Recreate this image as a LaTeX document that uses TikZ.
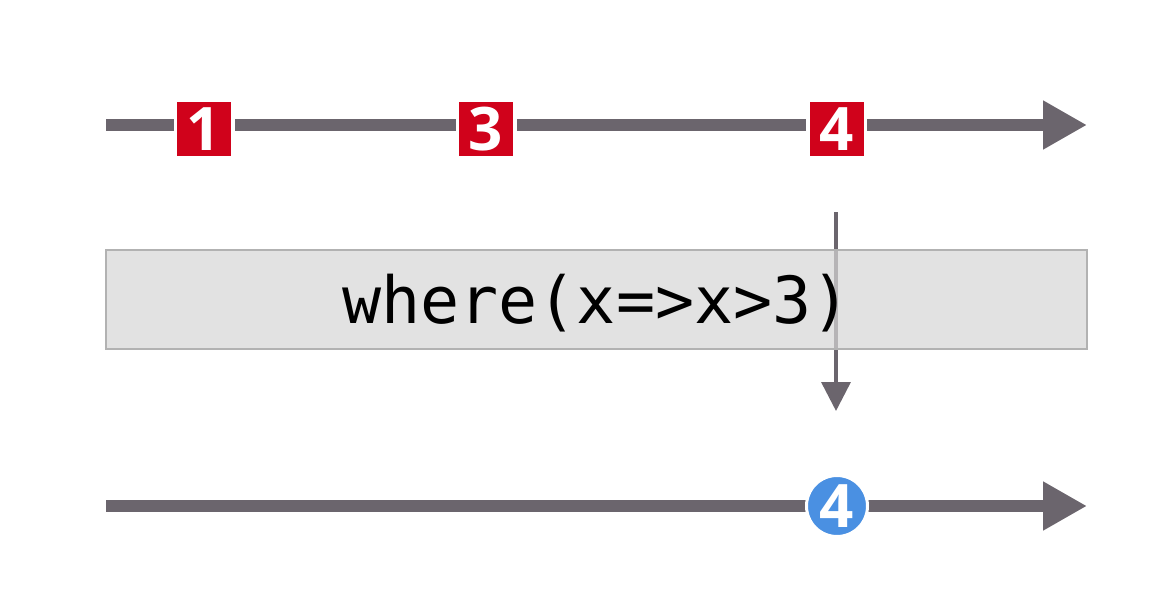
\documentclass[tikz,border=0pt]{standalone}
\usepackage{fontspec}
\setmainfont{Open Sans}
\newfontfamily\codefont{DejaVu Sans Mono}
\usetikzlibrary{arrows.meta}
\definecolor{linegray}{HTML}{6B656D}
\definecolor{rxred}{HTML}{D0021B}
\definecolor{rxblue}{HTML}{4A90E2}
\definecolor{boxfill}{HTML}{D6D6D6}
\definecolor{boxedge}{HTML}{B2B2B2}
\tikzset{
  timeline/.style={draw=linegray, line width=12pt, -{Triangle[length=44pt,width=46pt]}},
  redmark/.style={rectangle, fill=rxred, draw=white, line width=3.5pt, minimum size=57.5pt, inner sep=0pt, text=white, font=\bfseries\fontsize{60}{60}\selectfont},
  bluemark/.style={circle, fill=rxblue, draw=white, line width=3pt, minimum size=61pt, inner sep=0pt, text=white, font=\bfseries\fontsize{60}{60}\selectfont},
  opbox/.style={rectangle, fill=boxfill, fill opacity=0.7, draw=boxedge, line width=2.5pt},
  droparrow/.style={draw=linegray, line width=3.5pt, -{Triangle[length=29pt,width=29pt]}},
}
\begin{document}
\begin{tikzpicture}[x=1pt,y=-1pt]
\useasboundingbox (0,0) rectangle (1176,615);
% top timeline
\coordinate (t0) at (106,125);
\coordinate (t1) at (1087,125);
\draw[timeline] (t0) -- (t1);
\node[redmark] (m1) at (204,129) {1};
\node[redmark] (m3) at (486,129) {3};
\node[redmark] (m4) at (836.5,129) {4};
% drop arrow
\coordinate (d0) at (836,212);
\coordinate (d1) at (836,411);
\draw[droparrow] (d0) -- (d1);
% operator box
\coordinate (b0) at (106,250);
\coordinate (b1) at (1087,349);
\draw[opbox] (b0) rectangle (b1);
\node[anchor=base, inner sep=0pt, text=black, font=\codefont\fontsize{65}{65}\selectfont] (op) at (596.5,323) {where(x=>x>3)};
% bottom timeline
\coordinate (u0) at (106,506);
\coordinate (u1) at (1087,506);
\draw[timeline] (u0) -- (u1);
\node[bluemark] (r4) at (837,506) {4};
\end{tikzpicture}
\end{document}
